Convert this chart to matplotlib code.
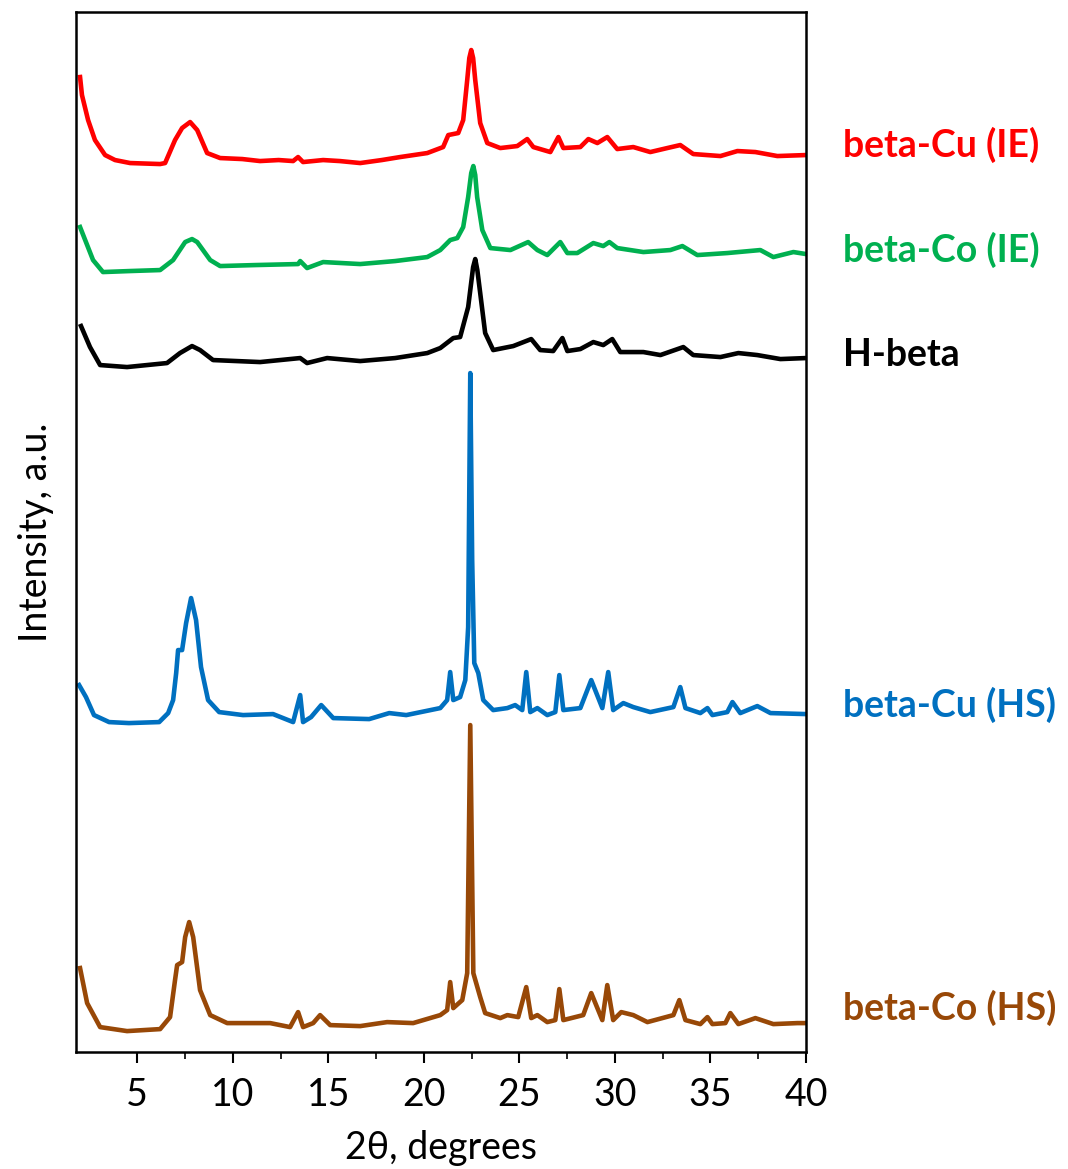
import matplotlib
matplotlib.use("Agg")
import matplotlib.pyplot as plt
from matplotlib.ticker import MultipleLocator, FixedLocator

plt.rcParams['font.family'] = ['Lato', 'DejaVu Sans']

# 2theta (degrees) and intensity (a.u., above each pattern's own baseline)
cu_ie_x = [2.01, 2.11, 2.43, 2.79, 3.32, 3.84, 4.63, 6.20, 6.46, 6.98, 7.35, 7.77, 8.14, 8.66, 9.34,
           10.5, 11.43, 12.4, 13.16, 13.42, 13.68, 14.73, 15.6, 16.67, 17.8, 18.76, 20.18, 21.01, 21.28,
           21.80, 22.06, 22.27, 22.38, 22.48, 22.58, 22.69, 22.95, 23.32, 24.00, 24.89, 25.41, 25.73,
           26.62, 27.04, 27.30, 28.19, 28.61, 29.08, 29.60, 30.12, 30.96, 31.85, 32.74, 33.42, 34.10,
           35.52, 36.41, 37.35, 38.50, 40.0]
cu_ie_y = [93, 75, 50, 30, 15, 10, 7, 6, 7, 30, 42, 48, 40, 17, 12,
           11, 9, 10, 9, 13, 8, 10, 9, 7, 10, 13, 17, 23, 35,
           37, 50, 90, 112, 120, 112, 90, 47, 27, 22, 24, 31, 23,
           18, 33, 22, 23, 31, 27, 33, 21, 23, 18, 22, 25, 16,
           14, 19, 18, 14, 15]

co_ie_x = [2.01, 2.69, 3.21, 4.6, 6.20, 6.88, 7.51, 7.87, 8.14, 8.82, 9.34, 11.2, 13.42, 13.53, 13.89,
           14.73, 16.67, 18.5, 20.18, 20.86, 21.38, 21.75, 22.06, 22.32, 22.48, 22.59, 22.69, 22.79,
           23.06, 23.48, 24.53, 25.46, 25.94, 26.46, 27.14, 27.51, 28.03, 28.87, 29.39, 29.71, 30.12,
           31.49, 32.90, 33.53, 34.31, 35.88, 37.61, 38.29, 39.34, 40.0]
co_ie_y = [48, 15, 3, 4, 5, 15, 33, 36, 33, 15, 9, 10, 11, 14, 7,
           13, 11, 14, 18, 25, 35, 37, 48, 78, 102, 109, 100, 78,
           45, 27, 25, 33, 25, 20, 33, 22, 22, 32, 29, 33, 27,
           23, 25, 29, 20, 22, 25, 18, 23, 21]

h_beta_x = [2.06, 2.53, 3.06, 4.47, 6.56, 7.24, 7.87, 8.29, 8.97, 11.43, 13.53, 13.89, 14.94, 16.67,
            18.5, 20.18, 20.86, 21.54, 21.90, 22.32, 22.58, 22.69, 22.80, 22.95, 23.21, 23.63, 24.68,
            25.62, 26.09, 26.77, 27.25, 27.51, 28.19, 28.87, 29.39, 29.86, 30.28, 31.49, 32.38, 33.58,
            34.10, 35.52, 36.46, 37.45, 38.66, 40.0]
h_beta_y = [44, 23, 5, 3, 7, 17, 24, 20, 10, 8, 12, 7, 12, 9,
            12, 17, 22, 32, 33, 63, 103, 111, 100, 77, 37, 20, 24,
            31, 20, 19, 32, 19, 21, 28, 25, 31, 18, 18, 15, 23,
            15, 13, 17, 15, 11, 12]

cu_hs_x = [1.96, 2.32, 2.74, 3.53, 4.57, 6.15, 6.62, 6.88, 7.04, 7.14, 7.35, 7.56, 7.82, 8.08, 8.34,
           8.71, 9.29, 10.54, 12.11, 13.16, 13.53, 13.68, 14.10, 14.63, 15.26, 17.14, 18.19, 19.08,
           20.86, 21.22, 21.38, 21.54, 21.90, 22.17, 22.32, 22.43, 22.53, 22.64, 22.85, 23.11, 23.63,
           24.37, 24.78, 25.15, 25.36, 25.57, 25.94, 26.46, 26.88, 27.09, 27.30, 28.19, 28.76, 29.34,
           29.65, 29.91, 30.44, 30.96, 31.85, 33.06, 33.42, 33.69, 34.47, 34.84, 35.10, 35.88, 36.15,
           36.56, 37.45, 38.14, 40.0]
cu_hs_y = [40, 28, 10, 3, 2, 3, 12, 25, 52, 75, 75, 102, 127, 105, 58,
           25, 13, 10, 11, 3, 30, 3, 8, 20, 7, 6, 12, 10,
           17, 25, 53, 25, 28, 45, 98, 352, 165, 62, 52, 25, 15,
           17, 20, 15, 53, 13, 17, 10, 13, 50, 15, 17, 45, 17,
           53, 15, 22, 18, 13, 18, 38, 17, 12, 17, 10, 13, 23,
           12, 19, 12, 11]

co_hs_x = [2.01, 2.38, 3.06, 4.47, 6.20, 6.72, 6.98, 7.09, 7.35, 7.51, 7.72, 7.93, 8.29, 8.82, 9.71,
           11.96, 13.00, 13.42, 13.68, 14.21, 14.57, 15.10, 16.67, 18.08, 19.44, 20.86, 21.22, 21.38,
           21.54, 22.01, 22.27, 22.43, 22.59, 22.95, 23.21, 24.00, 24.37, 24.94, 25.36, 25.62, 25.94,
           26.46, 26.88, 27.09, 27.30, 28.34, 28.76, 29.34, 29.60, 29.91, 30.33, 30.96, 31.70, 33.06,
           33.37, 33.69, 34.47, 34.84, 35.10, 35.78, 36.04, 36.46, 37.35, 38.29, 39.55, 40.0]
co_hs_y = [65, 30, 6, 2, 4, 16, 53, 68, 71, 96, 111, 96, 43, 18, 10,
           10, 6, 21, 6, 10, 18, 8, 7, 11, 10, 18, 23, 51,
           25, 33, 60, 308, 60, 36, 20, 15, 18, 16, 46, 15, 18,
           11, 13, 44, 13, 18, 40, 13, 48, 13, 21, 18, 11, 18,
           33, 13, 9, 16, 9, 10, 20, 9, 15, 9, 10, 10]

names = ["beta-Cu (IE)", "beta-Co (IE)", "H-beta", "beta-Cu (HS)", "beta-Co (HS)"]
xs = [cu_ie_x, co_ie_x, h_beta_x, cu_hs_x, co_hs_x]
ys = [cu_ie_y, co_ie_y, h_beta_y, cu_hs_y, co_hs_y]
offsets = [882, 777, 682, 327, 19]
label_y = [907, 802, 697, 347, 44]
colors = ["#FF0000", "#00B050", "#000000", "#0070C0", "#984807"]

fig = plt.figure(figsize=(10.68, 11.69), dpi=100)
ax = fig.add_axes([0.0712, 0.1, 0.6835, 0.8897])

for x, y, off, c in zip(xs, ys, offsets, colors):
    ax.plot(x, [v + off for v in y], color=c, lw=3.3, solid_joinstyle='round')

for name, ly, c in zip(names, label_y, colors):
    ax.text(41.96, ly, name, color=c, fontsize=27, fontweight='bold',
            va='center', ha='left', clip_on=False)

ax.set_xlim(1.8, 40)
ax.set_ylim(0, 1040)
ax.xaxis.set_major_locator(MultipleLocator(5))
ax.xaxis.set_minor_locator(FixedLocator([7.5, 12.5, 17.5, 22.5, 27.5, 32.5, 37.5]))
ax.set_yticks([])
ax.tick_params(axis='x', which='major', direction='out', length=8, width=1.5,
               labelsize=27, pad=10)
ax.tick_params(axis='x', which='minor', direction='out', length=5, width=1.2)
for s in ax.spines.values():
    s.set_linewidth(1.8)

ax.set_xlabel("2θ, degrees", fontsize=27, labelpad=12)
ax.set_ylabel("Intensity, a.u.", fontsize=27, labelpad=16)

fig.savefig("out.png", dpi=100)
